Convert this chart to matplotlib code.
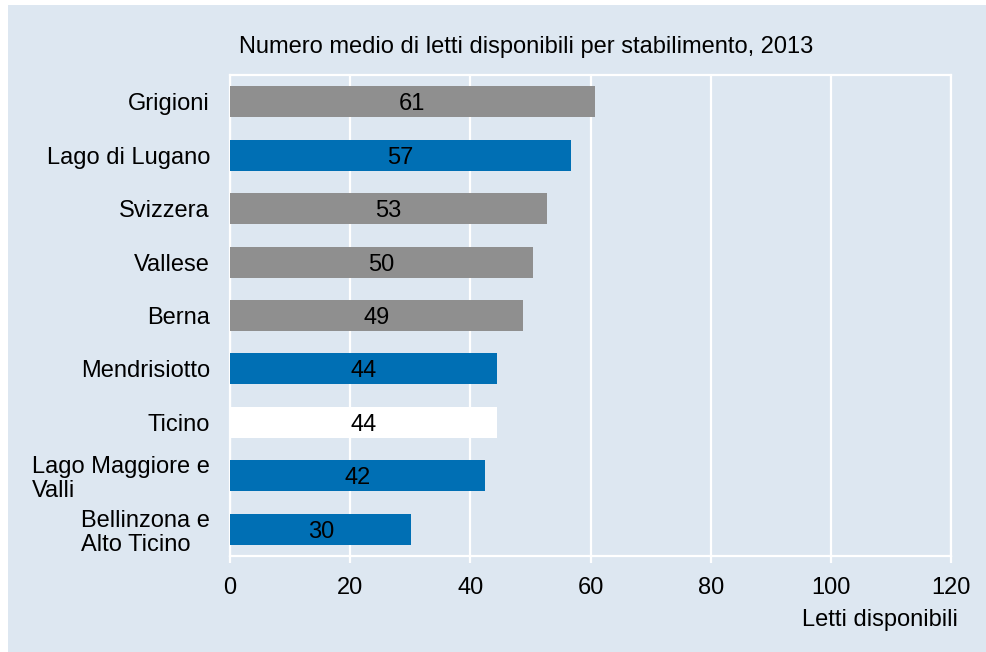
import matplotlib
matplotlib.use("Agg")
import matplotlib.pyplot as plt
from matplotlib.patches import Rectangle

plt.rcParams['font.family'] = ['Liberation Sans', 'DejaVu Sans']

categories = ["Grigioni", "Lago di Lugano", "Svizzera", "Vallese", "Berna",
              "Mendrisiotto", "Ticino", "Lago Maggiore e\nValli", "Bellinzona e\nAlto Ticino"]
values = [60.7, 56.7, 52.7, 50.4, 48.8, 44.4, 44.4, 42.4, 30.2]
groups = ["altro", "ticino_reg", "altro", "altro", "altro", "ticino_reg", "ticino", "ticino_reg", "ticino_reg"]
xticks = [0, 20, 40, 60, 80, 100, 120]
title = "Numero medio di letti disponibili per stabilimento, 2013"
xlabel = "Letti disponibili"

colors = {"altro": "#8f8f8f", "ticino_reg": "#006fb4", "ticino": "#ffffff"}
bg = "#dde7f1"
fs = 17

fig = plt.figure(figsize=(9.87, 6.52), dpi=100, facecolor="white")
fig.patches.append(Rectangle((8/987, 0), 1, 1 - 5/652, transform=fig.transFigure,
                             facecolor=bg, edgecolor="none", zorder=-10))

ax = fig.add_axes([230/987, 1 - 556/652, (951 - 230)/987, (556 - 75)/652])
ax.set_facecolor(bg)

ypos = list(range(len(categories)))
bars = ax.barh(ypos, values, height=0.58, color=[colors[g] for g in groups],
               edgecolor="none", zorder=3)
for b, v in zip(bars, values):
    ax.text(v / 2, b.get_y() + b.get_height() / 2, f"{v:.0f}", ha="center",
            va="center_baseline", fontsize=fs, color="black", zorder=4)

ax.set_ylim(len(categories) - 0.5, -0.5)
ax.set_xlim(0, 120)
ax.set_xticks(xticks)
ax.set_yticks(ypos)
ax.set_yticklabels(categories)
for lab in ax.get_yticklabels():
    lab.set_multialignment("left")
    lab.set_linespacing(1.12)

ax.grid(axis="x", color="white", linewidth=1.6, zorder=1)
ax.grid(axis="y", visible=False)
for s in ax.spines.values():
    s.set_color("white")
    s.set_linewidth(1.6)

ax.tick_params(axis="x", colors="white", labelcolor="black", length=5, width=1.6,
               pad=10, labelsize=fs)
ax.tick_params(axis="y", length=0, pad=14.4, labelsize=fs, labelcolor="black")

fig.text(526/987, 1 - 47/652, title, ha="center", va="center", fontsize=fs, color="black")
fig.text(958/987, 1 - 620/652, xlabel, ha="right", va="center", fontsize=fs, color="black")

fig.savefig("out.png", dpi=100, facecolor=fig.get_facecolor())
